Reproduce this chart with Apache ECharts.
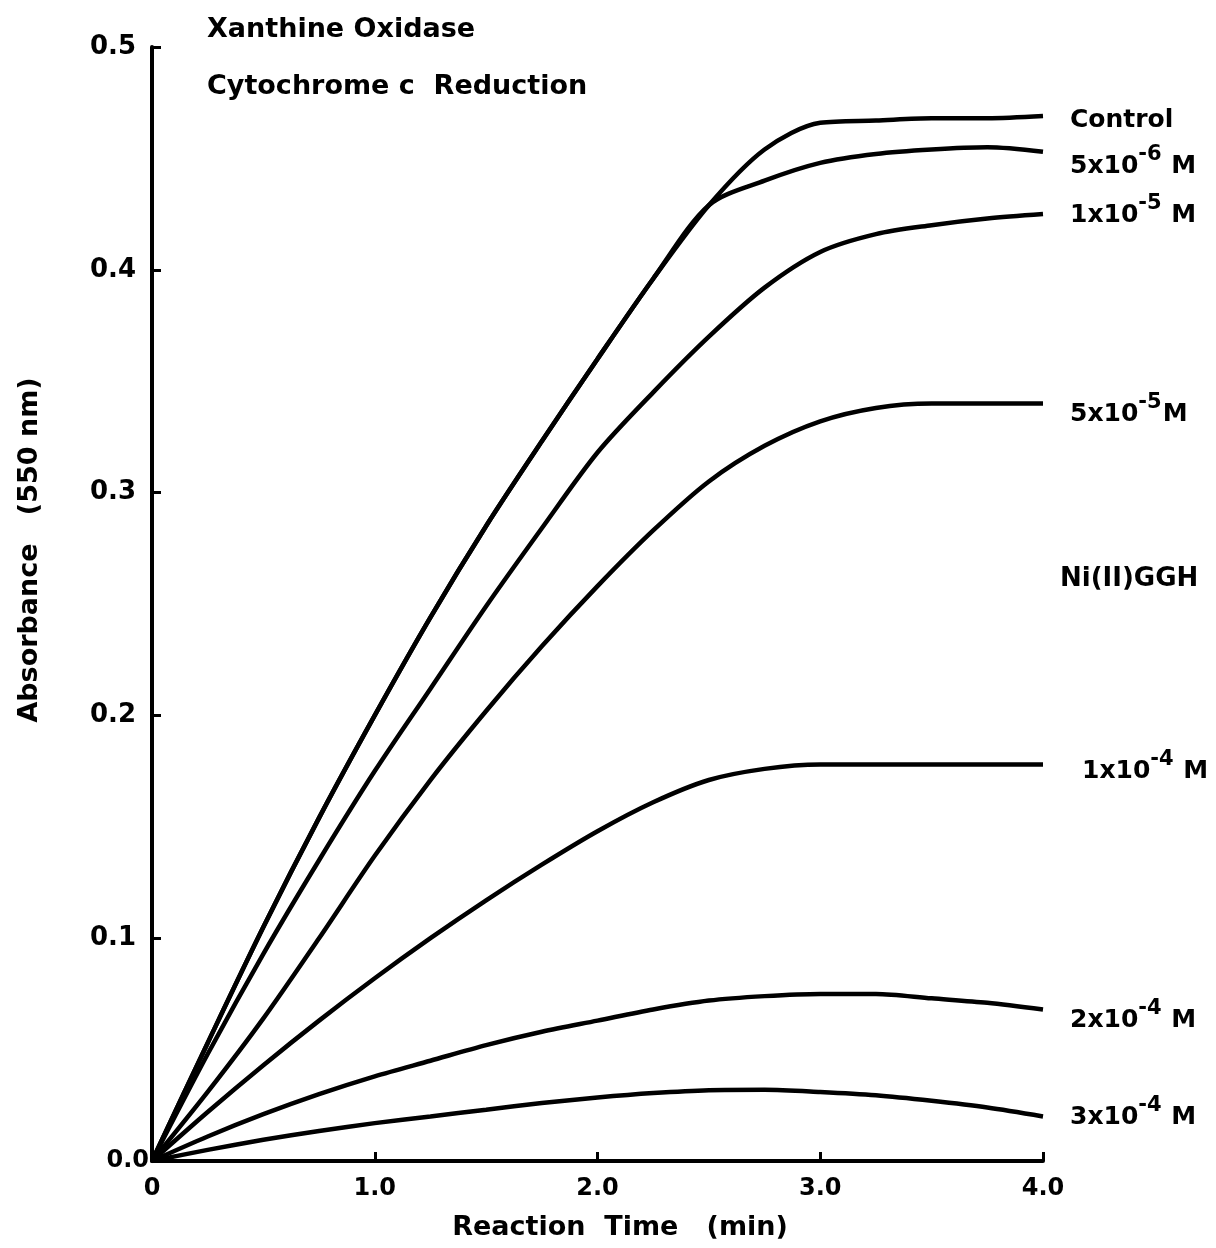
<!DOCTYPE html>
<html>
<head>
<meta charset="utf-8">
<script src="https://cdn.jsdelivr.net/npm/echarts@6/dist/echarts.min.js"></script>
<style>
  html, body { margin: 0; padding: 0; background: #fff; }
  #chart { width: 1216px; height: 1248px; }
</style>
</head>
<body>
<div id="chart"></div>
<script>
  // reaction time (min)
  var times = [0, 0.25, 0.5, 0.75, 1.0, 1.25, 1.5, 1.75, 2.0, 2.25, 2.5, 2.75, 3.0, 3.25, 3.5, 3.75, 4.0]

  // absorbance at 550 nm
  var control = [0, 0.053, 0.105, 0.154, 0.200, 0.244, 0.285, 0.323, 0.360, 0.396, 0.429, 0.454, 0.466, 0.467, 0.468, 0.468, 0.469]
  var ni5e6 = [0, 0.053, 0.105, 0.154, 0.200, 0.244, 0.285, 0.323, 0.360, 0.396, 0.429, 0.440, 0.448, 0.452, 0.454, 0.455, 0.453]
  var ni1e5 = [0, 0.048, 0.093, 0.135, 0.175, 0.212, 0.249, 0.284, 0.318, 0.345, 0.370, 0.392, 0.408, 0.416, 0.420, 0.423, 0.425]
  var ni5e5 = [0, 0.031, 0.064, 0.100, 0.137, 0.171, 0.202, 0.231, 0.258, 0.283, 0.305, 0.321, 0.332, 0.338, 0.340, 0.340, 0.340]
  var ni1e4 = [0, 0.022, 0.043, 0.063, 0.082, 0.100, 0.117, 0.133, 0.148, 0.161, 0.171, 0.176, 0.178, 0.178, 0.178, 0.178, 0.178]
  var ni2e4 = [0, 0.011, 0.021, 0.030, 0.038, 0.045, 0.052, 0.058, 0.063, 0.068, 0.072, 0.074, 0.075, 0.075, 0.073, 0.071, 0.068]
  var ni3e4 = [0, 0.005, 0.0095, 0.0135, 0.017, 0.020, 0.023, 0.026, 0.0285, 0.0305, 0.0318, 0.032, 0.031, 0.0295, 0.027, 0.024, 0.020]

  // labels at the right end of each curve
  var curveLabels = [
    '{b|Control}',
    '{b|5x10}{s|-6}{b| M}',
    '{b|1x10}{s|-5}{b| M}',
    '{b|5x10}{s|-5}{b|M}',
    '{b|1x10}{s|-4}{b| M}',
    '{b|2x10}{s|-4}{b| M}',
    '{b|3x10}{s|-4}{b| M}'
  ]
  var labelOffsets = [[0, 4], [0, 10], [0, -4], [0, 6], [12, 2], [0, 6], [0, -4]]

  var font = '"DejaVu Sans", "Liberation Sans", Arial, sans-serif'

  function pairs (vals) {
    return times.map(function (t, i) { return [t, vals[i]] })
  }

  function makeSeries (vals, idx) {
    return {
      type: 'line',
      data: pairs(vals),
      symbol: 'none',
      smooth: 0.3,
      lineStyle: { color: '#000', width: 4.5 },
      silent: true,
      z: 3,
      endLabel: {
        show: true,
        distance: 27,
        offset: labelOffsets[idx],
        formatter: function () { return curveLabels[idx] },
        rich: {
          b: { fontFamily: font, fontWeight: 'bold', fontSize: 25, color: '#000', verticalAlign: 'bottom' },
          s: { fontFamily: font, fontWeight: 'bold', fontSize: 21, color: '#000', verticalAlign: 'bottom', padding: [0, 1, 14, 0] }
        }
      }
    }
  }

  var myChart = echarts.init(document.getElementById('chart'))
  var option = {
    animation: false,
    backgroundColor: '#fff',
    grid: { left: 152, right: 173, top: 47, bottom: 87 },
    xAxis: {
      type: 'value',
      min: 0,
      max: 4,
      interval: 1,
      axisLine: { lineStyle: { color: '#000', width: 4 } },
      axisTick: { inside: true, length: 9, lineStyle: { color: '#000', width: 3 } },
      splitLine: { show: false },
      axisLabel: {
        margin: 16,
        color: '#000',
        fontFamily: font,
        fontWeight: 'bold',
        fontSize: 24,
        formatter: function (v) { return v === 0 ? '0' : v.toFixed(1) }
      }
    },
    yAxis: {
      type: 'value',
      min: 0,
      max: 0.5,
      interval: 0.1,
      axisLine: { lineStyle: { color: '#000', width: 4 } },
      axisTick: { inside: true, length: 9, lineStyle: { color: '#000', width: 3 } },
      splitLine: { show: false },
      axisLabel: {
        margin: 2,
        color: '#000',
        fontFamily: font,
        fontWeight: 'bold',
        fontSize: 26,
        formatter: function (v) {
          return v === 0 ? '{z|0.0}' : '{n|' + v.toFixed(1) + '}'
        },
        rich: {
          n: { fontFamily: font, fontWeight: 'bold', fontSize: 26, color: '#000', padding: [0, 14, 0, 0] },
          z: { fontFamily: font, fontWeight: 'bold', fontSize: 24, color: '#000', padding: [0, 1, 0, 0] }
        }
      }
    },
    graphic: [
      { type: 'text', left: 207, top: 16, style: { text: 'Xanthine Oxidase', font: 'bold 27px ' + font, fill: '#000' } },
      { type: 'text', left: 207, top: 73, style: { text: 'Cytochrome c  Reduction', font: 'bold 27px ' + font, fill: '#000' } },
      { type: 'text', left: 1060, top: 566, style: { text: 'Ni(II)GGH', font: 'bold 26px ' + font, fill: '#000' } },
      { type: 'text', x: 30, y: 550, rotation: Math.PI / 2, style: { text: 'Absorbance   (550 nm)', font: 'bold 27px ' + font, fill: '#000', align: 'center', verticalAlign: 'middle' } },
      { type: 'text', x: 620, y: 1228, style: { text: 'Reaction  Time   (min)', font: 'bold 27px ' + font, fill: '#000', align: 'center', verticalAlign: 'middle' } }
    ],
    series: [control, ni5e6, ni1e5, ni5e5, ni1e4, ni2e4, ni3e4].map(makeSeries)
  }
  myChart.setOption(option)
</script>
</body>
</html>
